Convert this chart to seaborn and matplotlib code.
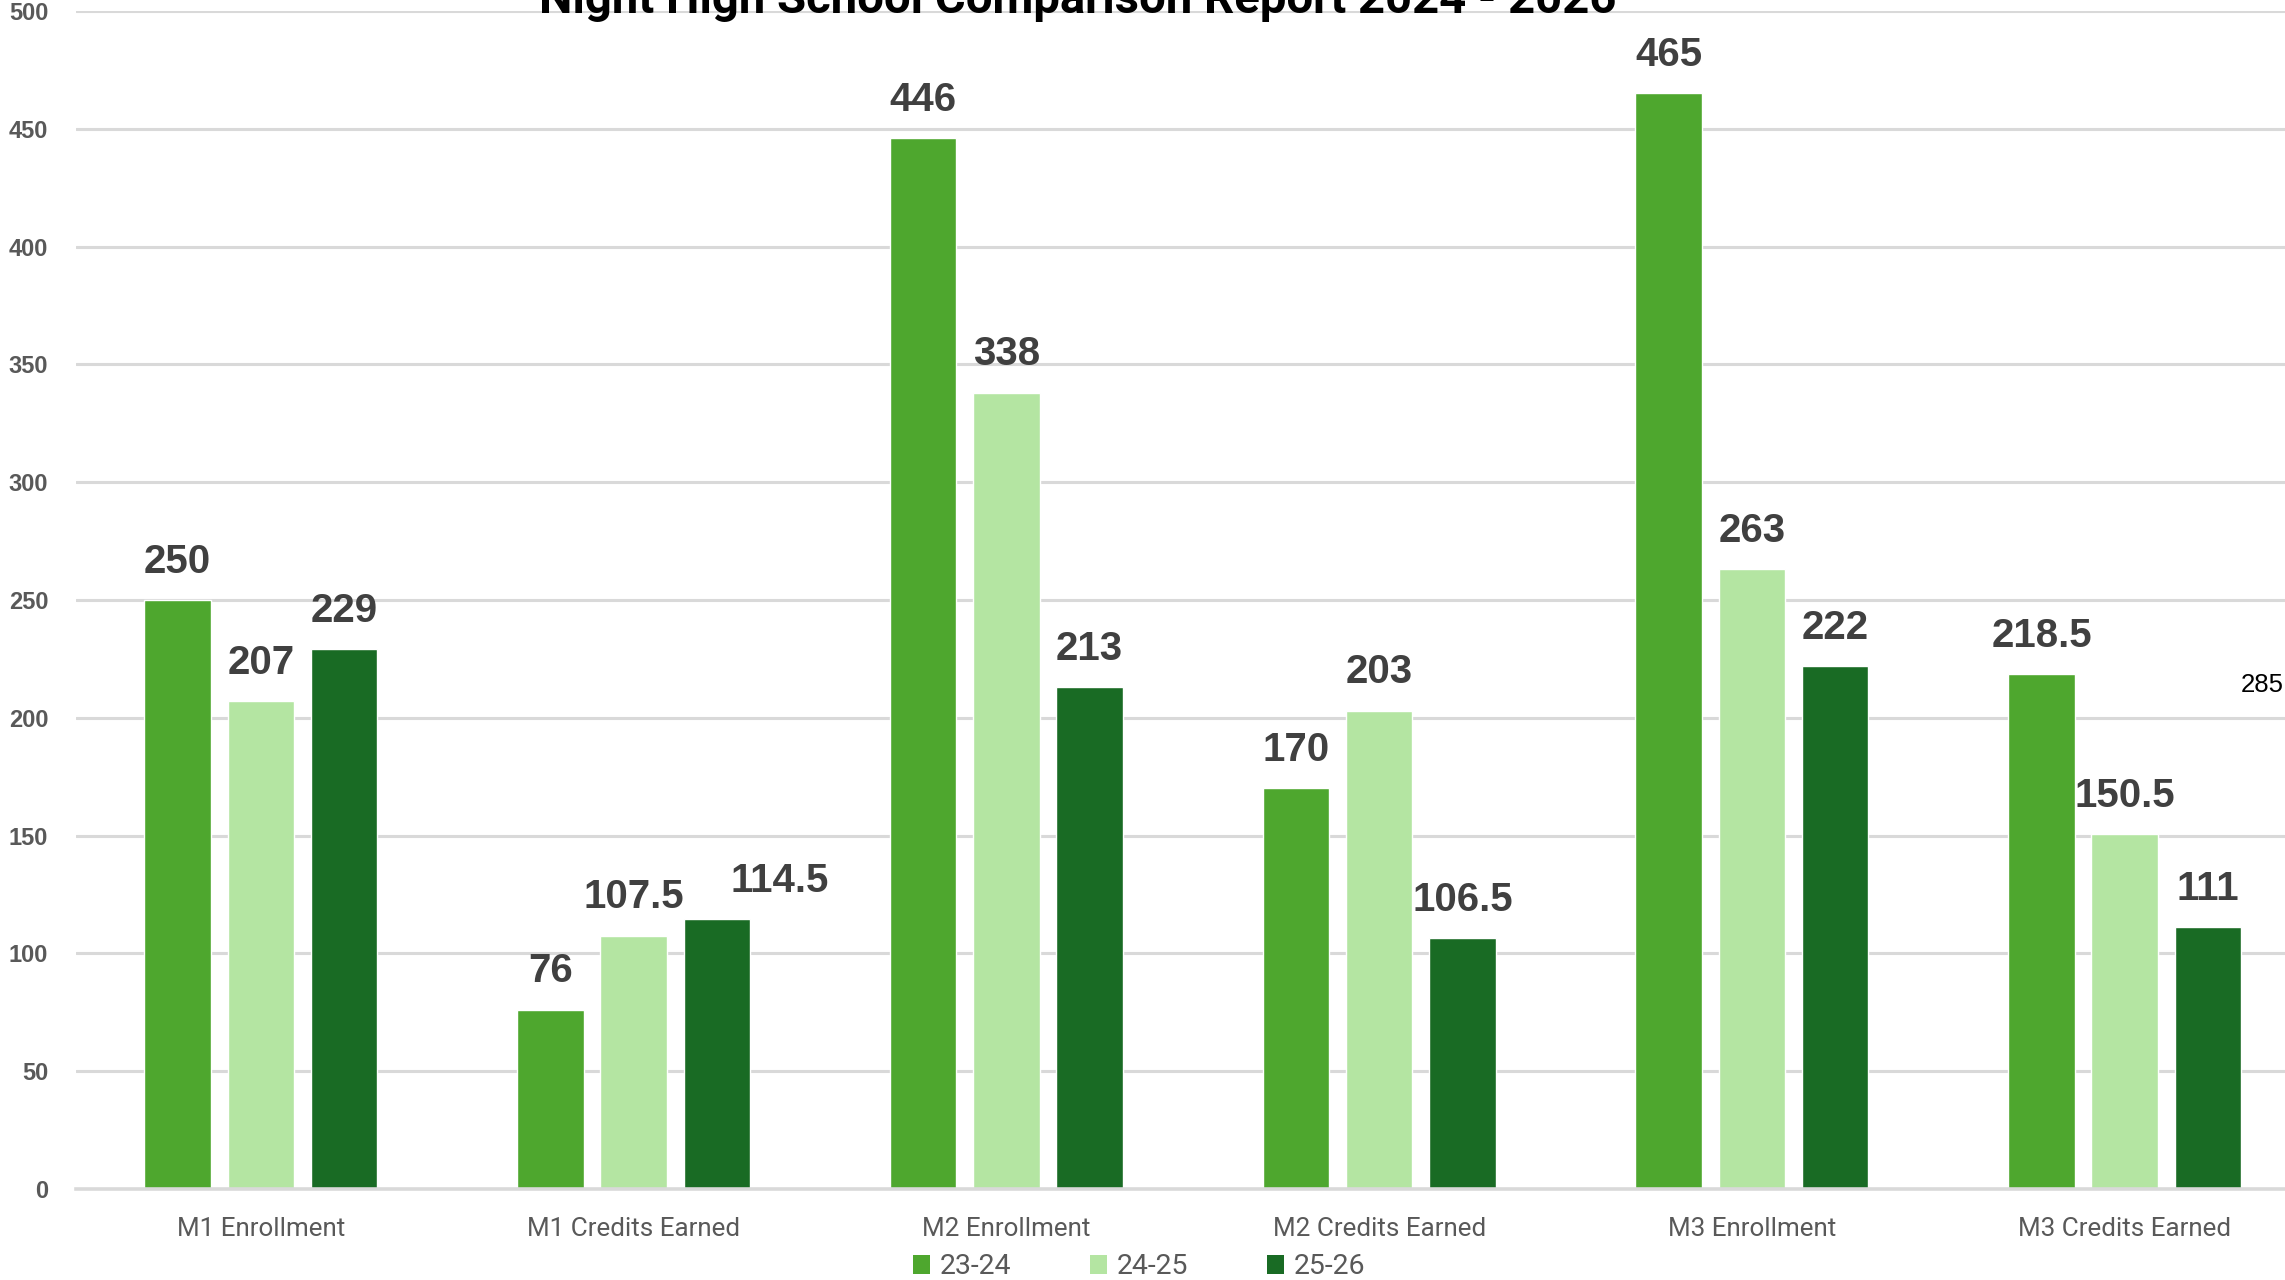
import matplotlib
matplotlib.use("Agg")
import matplotlib.pyplot as plt
from matplotlib import font_manager
from matplotlib.patches import Patch
import seaborn as sns
import pandas as pd

# Report data
categories = ["M1 Enrollment", "M1 Credits Earned", "M2 Enrollment",
              "M2 Credits Earned", "M3 Enrollment", "M3 Credits Earned"]
years = ["23-24", "24-25", "25-26"]
values_23_24 = [250, 76, 446, 170, 465, 218.5]
values_24_25 = [207, 107.5, 338, 203, 263, 150.5]
values_25_26 = [229, 114.5, 213, 106.5, 222, 111]
y_ticks = list(range(0, 501, 50))
colors = ["#4EA72E", "#B4E5A2", "#196B24"]

title = "Night High School Comparison Report 2024 - 2026"
side_note = "285"

series = {"23-24": values_23_24, "24-25": values_24_25, "25-26": values_25_26}
df = pd.DataFrame(
    [(c, y, v) for y in years for c, v in zip(categories, series[y])],
    columns=["category", "year", "value"],
)

sns.set_theme(style="white")

installed = {f.name for f in font_manager.fontManager.ttflist}
narrow = "Liberation Sans Narrow" if "Liberation Sans Narrow" in installed else "Roboto"
plt.rcParams["font.family"] = ["Liberation Sans", "DejaVu Sans"]

W, H = 2285, 1280
fig = plt.figure(figsize=(W / 100, H / 100), dpi=100)
ax = fig.add_axes([76 / W, 1 - 1189 / H, 1 - 76 / W, (1189 - 11) / H])

sns.barplot(data=df, x="category", y="value", hue="year", order=categories,
            hue_order=years, palette=colors, width=0.67, gap=0.2,
            saturation=1, ax=ax, legend=False)

ax.set_xlim(-0.496, 5.43)
ax.set_ylim(0, 500)
ax.set_yticks(y_ticks)
ax.yaxis.grid(True, color="#D9D9D9", linewidth=2.2)
ax.set_axisbelow(True)
for s in ["top", "right", "left"]:
    ax.spines[s].set_visible(False)
ax.spines["bottom"].set_color("#D9D9D9")
ax.spines["bottom"].set_linewidth(2.6)
ax.tick_params(axis="both", length=0)
ax.tick_params(axis="y", pad=20, labelsize=17, labelcolor="#595959")
ax.tick_params(axis="x", pad=20, labelsize=18.7, labelcolor="#595959")
for t in ax.get_yticklabels():
    t.set_fontweight("bold")
for t in ax.get_xticklabels():
    t.set_family([narrow, "DejaVu Sans"])
ax.set_xlabel("")
ax.set_ylabel("")

pad = 14
for cont, y in zip(ax.containers, years):
    anns = ax.bar_label(cont, labels=[f"{v:g}" for v in series[y]], padding=pad,
                        fontsize=29, fontweight="bold", color="#404040")
    if y == "25-26":
        # nudge the M1 Credits Earned label right so it clears its neighbour
        anns[1].xyann = (45, pad)

fig.text(1078 / W, 1 - 13 / H, title, ha="center", va="baseline",
         fontsize=34, fontweight="bold", color="black",
         family=[narrow, "DejaVu Sans"])
fig.text(1 - 1 / W, 1 - 692 / H, side_note, ha="right", va="baseline",
         fontsize=18.5, color="black")

handles = [Patch(facecolor=c, edgecolor="none", label=y) for c, y in zip(colors, years)]
leg = fig.legend(handles=handles, loc="center", bbox_to_anchor=(1139 / W, 1 - 1267 / H),
                 ncol=3, frameon=False, handlelength=0.6, handleheight=0.6,
                 handletextpad=0.35, columnspacing=2.75, borderpad=0,
                 prop={"family": [narrow, "DejaVu Sans"], "size": 20.5})
for t in leg.get_texts():
    t.set_color("#595959")

fig.savefig("out.png", dpi=100)
